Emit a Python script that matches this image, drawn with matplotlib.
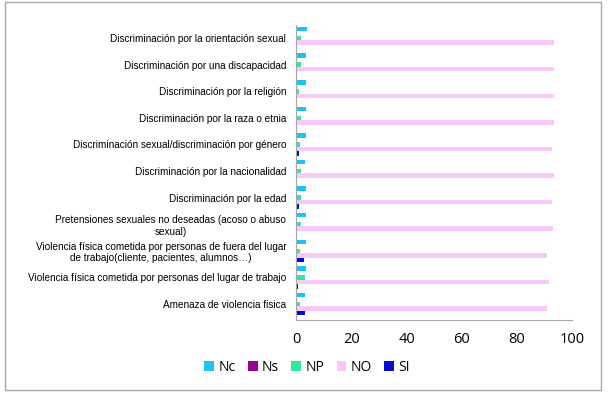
import matplotlib.pyplot as plt
import numpy as np
from matplotlib.patches import Rectangle

categorias = [
    "Amenaza de violencia fisica",
    "Violencia física cometida por personas del lugar de trabajo",
    "Violencia física cometida por personas de fuera del lugar\nde trabajo(cliente, pacientes, alumnos…)",
    "Pretensiones sexuales no deseadas (acoso o abuso\nsexual)",
    "Discriminación por la edad",
    "Discriminación por la nacionalidad",
    "Discriminación sexual/discriminación por género",
    "Discriminación por la raza o etnia",
    "Discriminación por la religión",
    "Discriminación por una discapacidad",
    "Discriminación por la orientación sexual",
]

nc = [3.4, 3.6, 3.6, 3.6, 3.6, 3.4, 3.6, 3.6, 3.6, 3.6, 4.0]
ns = [0, 0, 0, 0, 0, 0, 0, 0, 0, 0, 0]
np_ = [1.5, 3.4, 1.4, 1.9, 1.7, 1.7, 1.4, 1.8, 1.2, 1.9, 1.8]
no = [90.8, 91.7, 90.8, 93.2, 92.8, 93.5, 92.8, 93.5, 93.5, 93.5, 93.5]
si = [3.4, 0.7, 3.0, 0.5, 1.1, 0.3, 1.0, 0.0, 0.4, 0.0, 0.0]

series = [("Nc", nc, "#1FC3F2"), ("Ns", ns, "#990099"), ("NP", np_, "#2EE89E"),
          ("NO", no, "#FAC8F8"), ("SI", si, "#0A0ACC")]

fig = plt.figure(figsize=(6.08, 3.94), dpi=100)
ax = fig.add_axes([0.487, 0.188, 0.454, 0.749])

y = np.arange(len(categorias))
h = 0.17
for i, (nombre, vals, color) in enumerate(series):
    ax.barh(y + (2 - i) * h, vals, height=h, color=color, label=nombre)

ax.set_xlim(0, 100)
ax.set_ylim(-0.6, 10.5)
ax.set_xticks([0, 20, 40, 60, 80, 100])
ax.set_yticks(y)
ax.set_yticklabels(categorias, fontsize=7.2, family="Liberation Sans",
                   multialignment="center")
for lab in ax.get_xticklabels():
    lab.set_fontsize(10.5)
    lab.set_family("Open Sans")
ax.tick_params(axis="both", length=0)
ax.tick_params(axis="x", pad=9)
ax.tick_params(axis="y", pad=7)
for s in ["top", "right"]:
    ax.spines[s].set_visible(False)
ax.spines["left"].set_color("#A6A6A6")
ax.spines["bottom"].set_color("#A6A6A6")

ax.legend(loc="center", bbox_to_anchor=(0.505, 0.068), bbox_transform=fig.transFigure,
          ncol=5, frameon=False, handlelength=0.7, handleheight=0.7,
          handletextpad=0.3, columnspacing=0.9, prop={"family": "Open Sans", "size": 10})

fig.patches.append(Rectangle((0.008, 0.01), 0.98, 0.985, transform=fig.transFigure,
                             fill=False, edgecolor="#A6A6A6", linewidth=1))

plt.savefig("out.png", dpi=100)
